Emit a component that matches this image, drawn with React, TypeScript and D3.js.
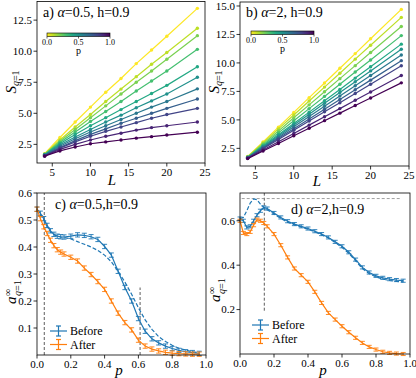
import React from 'react';
import * as d3 from 'd3';

// system sizes and disorder values (panels a, b)
const sizes = [4, 6, 8, 10, 12, 14, 16, 18, 20, 24];
const pLevels = [0, 0.1, 0.2, 0.3, 0.4, 0.5, 0.6, 0.7, 0.8, 0.9, 1.0];

// S_{q=1} vs L, one row per p (alpha = 0.5)
const entropyA = [
  [1.75, 3.05, 4.3, 5.5, 6.7, 7.8, 9.0, 10.1, 11.2, 13.45],
  [1.72, 2.85, 3.9, 4.9, 5.95, 6.95, 7.95, 8.95, 9.9, 11.85],
  [1.7, 2.75, 3.7, 4.65, 5.6, 6.55, 7.5, 8.4, 9.35, 11.25],
  [1.68, 2.65, 3.5, 4.35, 5.15, 5.95, 6.8, 7.6, 8.4, 10.15],
  [1.66, 2.55, 3.3, 4.0, 4.65, 5.3, 5.95, 6.6, 7.25, 8.75],
  [1.64, 2.45, 3.1, 3.7, 4.3, 4.85, 5.45, 6.0, 6.55, 7.9],
  [1.62, 2.35, 2.95, 3.5, 4.0, 4.5, 5.0, 5.5, 5.95, 6.97],
  [1.6, 2.25, 2.8, 3.3, 3.75, 4.2, 4.6, 5.0, 5.4, 6.15],
  [1.58, 2.2, 2.7, 3.15, 3.55, 3.9, 4.25, 4.6, 4.9, 5.4],
  [1.56, 2.1, 2.5, 2.85, 3.15, 3.4, 3.65, 3.85, 4.0, 4.3],
  [1.55, 1.97, 2.29, 2.55, 2.7, 2.85, 3.0, 3.12, 3.25, 3.48],
];

// S_{q=1} vs L, one row per p (alpha = 2)
const entropyB = [
  [1.78, 3.07, 4.36, 5.66, 6.95, 8.24, 9.53, 10.82, 12.12, 14.7],
  [1.76, 2.98, 4.21, 5.43, 6.66, 7.88, 9.1, 10.33, 11.55, 14.0],
  [1.74, 2.89, 4.03, 5.18, 6.32, 7.47, 8.62, 9.76, 10.91, 13.2],
  [1.72, 2.79, 3.86, 4.92, 5.99, 7.06, 8.13, 9.2, 10.26, 12.4],
  [1.7, 2.7, 3.69, 4.69, 5.68, 6.68, 7.67, 8.67, 9.66, 11.65],
  [1.69, 2.64, 3.59, 4.54, 5.49, 6.45, 7.4, 8.35, 9.3, 11.2],
  [1.68, 2.58, 3.48, 4.39, 5.29, 6.19, 7.09, 7.99, 8.9, 10.7],
  [1.67, 2.52, 3.38, 4.23, 5.08, 5.94, 6.79, 7.64, 8.49, 10.2],
  [1.66, 2.47, 3.28, 4.09, 4.9, 5.71, 6.51, 7.32, 8.13, 9.75],
  [1.63, 2.36, 3.08, 3.81, 4.54, 5.27, 5.99, 6.72, 7.45, 8.9],
  [1.6, 2.27, 2.93, 3.6, 4.26, 4.93, 5.59, 6.26, 6.92, 8.25],
];

// p grid for panels c, d
const pGrid = [0, 0.02, 0.04, 0.06, 0.08, 0.1, 0.12, 0.14, 0.16, 0.2, 0.24, 0.28, 0.32, 0.36,
  0.4, 0.44, 0.48, 0.52, 0.56, 0.6, 0.64, 0.68, 0.72, 0.76, 0.8, 0.84, 0.88, 0.92, 0.96];

const beforeC = [0.54, 0.525, 0.505, 0.48, 0.46, 0.447, 0.44, 0.438, 0.437, 0.44, 0.445, 0.443, 0.438, 0.428,
  0.402, 0.37, 0.31, 0.25, 0.2, 0.135, 0.088, 0.06, 0.045, 0.033, 0.024, 0.017, 0.012, 0.009, 0.006];
const beforeDashC = [0.54, 0.52, 0.5, 0.475, 0.455, 0.445, 0.44, 0.437, 0.435, 0.43, 0.42, 0.41, 0.4, 0.387,
  0.37, 0.345, 0.31, 0.27, 0.225, 0.175, 0.13, 0.095, 0.068, 0.05, 0.036, 0.025, 0.018, 0.012, 0.008];
const afterC = [0.54, 0.505, 0.475, 0.45, 0.425, 0.405, 0.39, 0.381, 0.374, 0.362, 0.348, 0.322, 0.298, 0.272,
  0.243, 0.2, 0.155, 0.12, 0.093, 0.055, 0.033, 0.022, 0.015, 0.01, 0.007, 0.005, 0.004, 0.003, 0.003];

const beforeD = [0.61, 0.6, 0.57, 0.575, 0.6, 0.625, 0.645, 0.66, 0.655, 0.635, 0.615, 0.598, 0.585, 0.575,
  0.565, 0.553, 0.54, 0.525, 0.505, 0.485, 0.458, 0.425, 0.39, 0.367, 0.352, 0.343, 0.337, 0.333, 0.33];
const beforeDashD = [0.61, 0.615, 0.645, 0.68, 0.698, 0.695, 0.675, 0.66, 0.65, 0.63, 0.61, 0.594, 0.582, 0.572,
  0.562, 0.55, 0.537, 0.522, 0.502, 0.48, 0.453, 0.42, 0.385, 0.362, 0.347, 0.337, 0.331, 0.327, 0.325];
const afterD = [0.6, 0.545, 0.54, 0.55, 0.58, 0.605, 0.6, 0.59, 0.575, 0.54, 0.49, 0.435, 0.385, 0.355,
  0.325, 0.28, 0.23, 0.185, 0.155, 0.125, 0.098, 0.073, 0.05, 0.032, 0.02, 0.01, 0.005, 0.002, 0.0];

const errC = 0.008;
const errD = 0.007;

const BLUE = '#1f77b4';
const ORANGE = '#ff7f0e';
const serif = '"Liberation Serif", "DejaVu Serif", serif';

const pColor = (p: number) => d3.interpolateViridis(1 - p);

function Frame({ x, y, xTicks, yTicks, xFmt, yFmt }: any) {
  const [x0, x1] = x.range();
  const [yb, yt] = y.range();
  return (
    <g fontFamily={serif} fontSize={11}>
      <rect x={x0} y={yt} width={x1 - x0} height={yb - yt} fill="none" stroke="#000" strokeWidth={0.8} />
      {xTicks.map((t: number) => (
        <g key={'x' + t}>
          <line x1={x(t)} x2={x(t)} y1={yb} y2={yb + 3.5} stroke="#000" strokeWidth={0.8} />
          <text x={x(t)} y={yb + 13} textAnchor="middle">{xFmt(t)}</text>
        </g>
      ))}
      {yTicks.map((t: number) => (
        <g key={'y' + t}>
          <line x1={x0 - 3.5} x2={x0} y1={y(t)} y2={y(t)} stroke="#000" strokeWidth={0.8} />
          <text x={x0 - 5} y={y(t)} dy="0.35em" textAnchor="end">{yFmt(t)}</text>
        </g>
      ))}
    </g>
  );
}

function Colorbar({ x0, y0, id }: any) {
  const cx = d3.scaleLinear().domain([0, 1]).range([x0, x0 + 63]);
  return (
    <g fontFamily={serif}>
      <defs>
        <linearGradient id={id} x1="0" x2="1" y1="0" y2="0">
          {d3.range(0, 1.01, 0.1).map((t) => (
            <stop key={t} offset={t} stopColor={pColor(t)} />
          ))}
        </linearGradient>
      </defs>
      <rect x={cx(0)} y={y0} width={cx(1) - cx(0)} height={3.5} fill={`url(#${id})`} stroke="#000" strokeWidth={0.6} />
      {[0, 0.5, 1].map((t) => (
        <g key={t}>
          <line x1={cx(t)} x2={cx(t)} y1={y0 + 3.5} y2={y0 + 5.5} stroke="#000" strokeWidth={0.6} />
          <text x={cx(t)} y={y0 + 11.5} fontSize={8} textAnchor="middle">{t.toFixed(1)}</text>
        </g>
      ))}
      <text x={cx(0.5)} y={y0 + 21} fontSize={10} textAnchor="middle">p</text>
    </g>
  );
}

function SizePanel({ data, x, y, yTicks, title, cbar, id }: any) {
  const line = d3.line<number>().x((_, i) => x(sizes[i])).y((d) => y(d));
  return (
    <g>
      {data.map((row: number[], k: number) => (
        <g key={k}>
          <path d={line(row) as string} fill="none" stroke={pColor(pLevels[k])} strokeWidth={1.2} />
          {row.map((v, i) => (
            <circle key={i} cx={x(sizes[i])} cy={y(v)} r={1.7} fill={pColor(pLevels[k])} />
          ))}
        </g>
      ))}
      <Frame x={x} y={y} xTicks={[5, 10, 15, 20, 25]} yTicks={yTicks} xFmt={(t: number) => t} yFmt={(t: number) => t.toFixed(1)} />
      <text x={x.range()[0] + 6} y={y.range()[1] + 15} fontFamily={serif} fontSize={14}>{title}</text>
      <Colorbar x0={cbar[0]} y0={cbar[1]} id={id} />
    </g>
  );
}

function ErrSeries({ vals, err, x, y, color }: any) {
  const line = d3.line<number>().x((_, i) => x(pGrid[i])).y((d) => y(d));
  return (
    <g stroke={color} strokeWidth={1.2} fill="none">
      <path d={line(vals) as string} />
      {vals.map((v: number, i: number) => (
        <g key={i} strokeWidth={0.9}>
          <line x1={x(pGrid[i])} x2={x(pGrid[i])} y1={y(v - err)} y2={y(v + err)} />
          <line x1={x(pGrid[i]) - 2.5} x2={x(pGrid[i]) + 2.5} y1={y(v - err)} y2={y(v - err)} />
          <line x1={x(pGrid[i]) - 2.5} x2={x(pGrid[i]) + 2.5} y1={y(v + err)} y2={y(v + err)} />
        </g>
      ))}
    </g>
  );
}

function Legend({ x0, y0 }: any) {
  const items = [
    { label: 'Before', color: BLUE },
    { label: 'After', color: ORANGE },
  ];
  return (
    <g fontFamily={serif} fontSize={12}>
      {items.map((it, i) => {
        const yy = y0 + i * 13.5;
        return (
          <g key={it.label} stroke={it.color} strokeWidth={1.2}>
            <line x1={x0} x2={x0 + 17} y1={yy} y2={yy} />
            <line x1={x0 + 8.5} x2={x0 + 8.5} y1={yy - 5} y2={yy + 5} />
            <line x1={x0 + 6} x2={x0 + 11} y1={yy - 5} y2={yy - 5} />
            <line x1={x0 + 6} x2={x0 + 11} y1={yy + 5} y2={yy + 5} />
            <text x={x0 + 20} y={yy} dy="0.35em" stroke="none" fill="#000">{it.label}</text>
          </g>
        );
      })}
    </g>
  );
}

function SLabel({ cx, cy }: any) {
  return (
    <text transform={`translate(${cx},${cy}) rotate(-90)`} textAnchor="middle" fontFamily={serif}>
      <tspan fontSize={15} fontStyle="italic">S</tspan>
      <tspan fontSize={10} dy={3}><tspan fontStyle="italic">q</tspan>=1</tspan>
    </text>
  );
}

function ALabel({ cx, cy }: any) {
  return (
    <g transform={`translate(${cx},${cy}) rotate(-90)`} fontFamily={serif}>
      <text x={0} y={0} fontSize={15} fontStyle="italic">a</text>
      <text x={8} y={-5} fontSize={10}>∞</text>
      <text x={8} y={5} fontSize={10}><tspan fontStyle="italic">q</tspan>=1</text>
    </g>
  );
}

export default function App() {
  const xa = d3.scaleLinear().domain([3, 25]).range([37, 205]);
  const ya = d3.scaleLinear().domain([1, 14]).range([163, 1.5]);
  const xb = d3.scaleLinear().domain([3, 25]).range([240, 409]);
  const yb = d3.scaleLinear().domain([0.95, 15.35]).range([166, 2]);
  const xc = d3.scaleLinear().domain([0, 1]).range([37, 206]);
  const yc = d3.scaleLinear().domain([0, 0.6]).range([355, 193]);
  const xd = d3.scaleLinear().domain([0, 1]).range([240, 410]);
  const yd = d3.scaleLinear().domain([0, 0.725]).range([354, 193]);

  const dashLine = (x: any, y: any) => d3.line<number>().x((_, i) => x(pGrid[i])).y((d) => y(d));
  const p1 = (t: number) => t.toFixed(1);

  return (
    <svg width={416} height={378} style={{ position: 'absolute', left: 0, top: 0, background: '#fff' }}>
      {/* panel a */}
      <SizePanel data={entropyA} x={xa} y={ya} yTicks={[2.5, 5, 7.5, 10, 12.5]}
        title={<><tspan>a) </tspan><tspan fontStyle="italic">α</tspan><tspan>=0.5, h=0.9</tspan></>}
        cbar={[47, 33]} id="cbA" />
      <SLabel cx={16} cy={82} />
      <text x={112} y={185} fontFamily={serif} fontSize={15} fontStyle="italic" textAnchor="middle">L</text>

      {/* panel b */}
      <SizePanel data={entropyB} x={xb} y={yb} yTicks={[2.5, 5, 7.5, 10, 12.5, 15]}
        title={<><tspan>b) </tspan><tspan fontStyle="italic">α</tspan><tspan>=2, h=0.9</tspan></>}
        cbar={[251, 31]} id="cbB" />
      <SLabel cx={219} cy={82} />
      <text x={317} y={186} fontFamily={serif} fontSize={15} fontStyle="italic" textAnchor="middle">L</text>

      {/* panel c */}
      <g stroke="#333" strokeWidth={0.8} strokeDasharray="3,2">
        <line x1={xc(0.043)} x2={xc(0.043)} y1={yc(0)} y2={yc(0.6)} />
        <line x1={xc(0.61)} x2={xc(0.61)} y1={yc(0)} y2={yc(0.25)} />
      </g>
      <path d={dashLine(xc, yc)(beforeDashC) as string} fill="none" stroke={BLUE} strokeWidth={1.2} strokeDasharray="4,2" />
      <ErrSeries vals={beforeC} err={errC} x={xc} y={yc} color={BLUE} />
      <ErrSeries vals={afterC} err={errC} x={xc} y={yc} color={ORANGE} />
      <Frame x={xc} y={yc} xTicks={[0, 0.2, 0.4, 0.6, 0.8, 1]} yTicks={[0.1, 0.2, 0.3, 0.4, 0.5, 0.6]} xFmt={p1} yFmt={p1} />
      <text x={55} y={209} fontFamily={serif} fontSize={14}>c) <tspan fontStyle="italic">α</tspan>=0.5,h=0.9</text>
      <Legend x0={50} y0={331} />
      <ALabel cx={16} cy={304} />
      <text x={119} y={375} fontFamily={serif} fontSize={15} fontStyle="italic" textAnchor="middle">p</text>

      {/* panel d */}
      <g stroke="#333" strokeWidth={0.8} strokeDasharray="3,2">
        <line x1={xd(0.143)} x2={xd(0.143)} y1={yd(0.195)} y2={yd(0.725)} />
        <line x1={xd(0.01)} x2={xd(0.94)} y1={yd(0.7)} y2={yd(0.7)} stroke="#888" />
      </g>
      <path d={dashLine(xd, yd)(beforeDashD) as string} fill="none" stroke={BLUE} strokeWidth={1.2} strokeDasharray="4,2" />
      <ErrSeries vals={beforeD} err={errD} x={xd} y={yd} color={BLUE} />
      <ErrSeries vals={afterD} err={errD} x={xd} y={yd} color={ORANGE} />
      <Frame x={xd} y={yd} xTicks={[0, 0.2, 0.4, 0.6, 0.8, 1]} yTicks={[0.2, 0.4, 0.6]} xFmt={p1} yFmt={p1} />
      <text x={291} y={214} fontFamily={serif} fontSize={14}>d) <tspan fontStyle="italic">α</tspan>=2,h=0.9</text>
      <Legend x0={252} y0={325} />
      <ALabel cx={220} cy={302} />
      <text x={323} y={375} fontFamily={serif} fontSize={15} fontStyle="italic" textAnchor="middle">p</text>
    </svg>
  );
}
